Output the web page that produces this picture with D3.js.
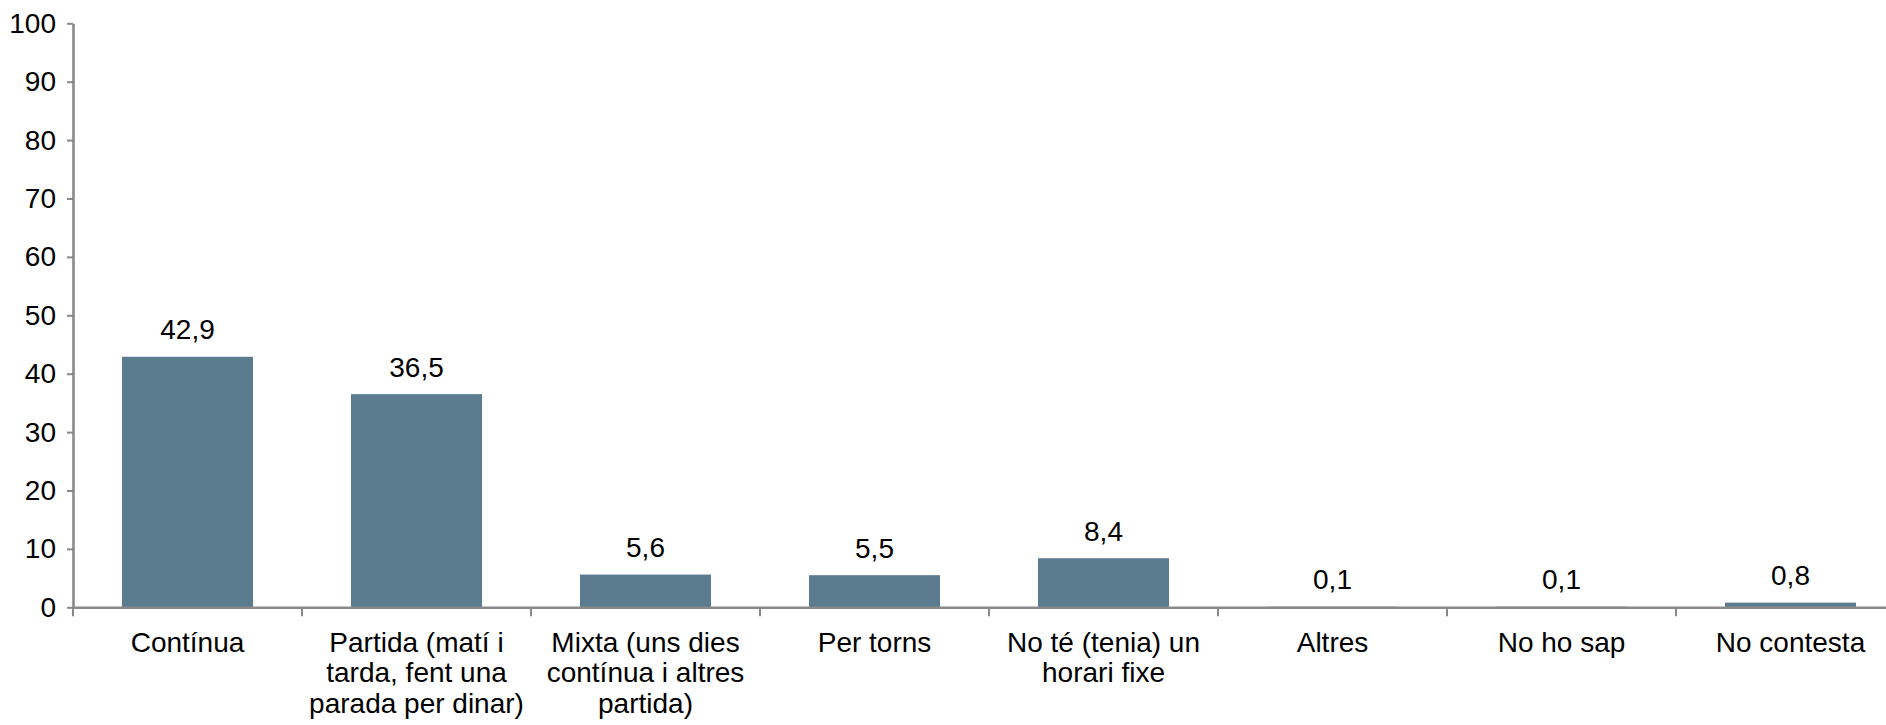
<!DOCTYPE html>
<html>
<head>
<meta charset="utf-8">
<script src="https://cdn.jsdelivr.net/npm/d3@7/dist/d3.min.js"></script>
<style>
  html, body { margin: 0; padding: 0; background: #fff; overflow: hidden; }
  svg { display: block; font-family: "Liberation Sans", Arial, sans-serif; }
</style>
</head>
<body>
<svg id="chart" width="1886" height="725"></svg>
<script>
const categories = [
  ["Contínua"],
  ["Partida (matí i", "tarda, fent una", "parada per dinar)"],
  ["Mixta (uns dies", "contínua i altres", "partida)"],
  ["Per torns"],
  ["No té (tenia) un", "horari fixe"],
  ["Altres"],
  ["No ho sap"],
  ["No contesta"]
];
const values = [42.9, 36.5, 5.6, 5.5, 8.4, 0.1, 0.1, 0.8];
const yTicks = [0, 10, 20, 30, 40, 50, 60, 70, 80, 90, 100];

const keys = categories.map(c => c.join(" "));
const svg = d3.select("#chart");
const axisColor = "#898989";
const barColor = "#5b7b8f";

const x = d3.scaleBand().domain(keys).range([73, 1905]).paddingInner(0.428).paddingOuter(0.214);
const xb = d3.scaleBand().domain(keys).range([73, 1905]).padding(0);
const y = d3.scaleLinear().domain([0, 100]).range([607.3, 23.3]);

// Bars
svg.append("g").selectAll("rect").data(values).join("rect")
  .attr("x", (d, i) => x(keys[i]))
  .attr("width", x.bandwidth())
  .attr("y", d => y(d))
  .attr("height", d => y(0) - y(d))
  .attr("fill", barColor);

// Y axis
const yAxis = svg.append("g").attr("transform", "translate(73,0)")
  .call(d3.axisLeft(y).tickValues(yTicks).tickSize(6).tickSizeOuter(0).tickPadding(11).tickFormat(d3.format("d")));
yAxis.select(".domain").attr("stroke", axisColor).attr("stroke-width", 2.6);
yAxis.selectAll(".tick line").attr("stroke", axisColor).attr("stroke-width", 2);
yAxis.selectAll(".tick text").attr("fill", "#000").style("font-size", "28px")
  .style("font-family", "'Liberation Sans', Arial, sans-serif");

// X axis line
const xAxis = svg.append("g").attr("transform", `translate(0,${y(0)})`)
  .call(d3.axisBottom(xb).tickSize(0).tickSizeOuter(0).tickFormat(""));
xAxis.select(".domain").attr("stroke", axisColor).attr("stroke-width", 2.6);
xAxis.selectAll(".tick").remove();

// X boundary ticks
const bounds = keys.map(k => xb(k)).concat([xb(keys[keys.length - 1]) + xb.bandwidth()]);
svg.append("g").selectAll("line").data(bounds).join("line")
  .attr("x1", d => d).attr("x2", d => d)
  .attr("y1", y(0)).attr("y2", y(0) + 9)
  .attr("stroke", axisColor).attr("stroke-width", 2);

// Category labels
const lab = svg.append("g").selectAll("text").data(categories).join("text")
  .attr("text-anchor", "middle")
  .attr("fill", "#000")
  .style("font-size", "28px")
  .attr("transform", (d, i) => `translate(${xb(keys[i]) + xb.bandwidth() / 2},651.7)`);
lab.selectAll("tspan").data(d => d).join("tspan")
  .attr("x", 0)
  .attr("y", (d, j) => j * 30.5)
  .text(d => d);

// Value labels
const fmt = v => d3.format(".1f")(v).replace(".", ",");
svg.append("g").selectAll("text").data(values).join("text")
  .attr("x", (d, i) => xb(keys[i]) + xb.bandwidth() / 2)
  .attr("y", d => y(d) - 17.5)
  .attr("text-anchor", "middle")
  .attr("fill", "#000")
  .style("font-size", "28px")
  .text(d => fmt(d));
</script>
</body>
</html>
